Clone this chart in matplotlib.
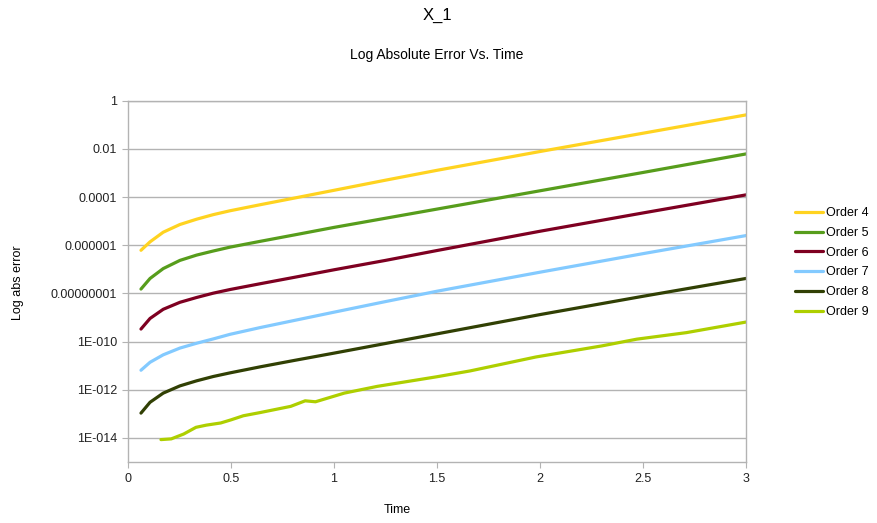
import matplotlib
matplotlib.use('Agg')
import matplotlib.pyplot as plt
from matplotlib.ticker import FixedLocator, FixedFormatter

plt.rcParams['font.family'] = ['Liberation Sans', 'DejaVu Sans']

# values, stored as log10(abs error)
t_main = [0.063, 0.107, 0.171, 0.252, 0.333, 0.414, 0.495, 0.641, 0.809, 1.0, 1.25, 1.5, 2.0, 2.5, 3.0]
order4 = [-6.21, -5.86, -5.46, -5.14, -4.92, -4.73, -4.57, -4.32, -4.04, -3.72, -3.30, -2.89, -2.11, -1.35, -0.59]
order5 = [-7.82, -7.38, -6.97, -6.63, -6.41, -6.24, -6.08, -5.84, -5.57, -5.26, -4.88, -4.50, -3.74, -2.98, -2.21]
order6 = [-9.48, -9.04, -8.66, -8.37, -8.17, -7.99, -7.84, -7.60, -7.33, -7.02, -6.63, -6.22, -5.42, -4.66, -3.91]
order7 = [-11.19, -10.86, -10.55, -10.27, -10.07, -9.89, -9.70, -9.42, -9.12, -8.78, -8.34, -7.91, -7.12, -6.35, -5.60]
order8 = [-12.97, -12.52, -12.14, -11.84, -11.63, -11.45, -11.30, -11.05, -10.78, -10.48, -10.08, -9.68, -8.88, -8.12, -7.38]

t_order9 = [0.16, 0.21, 0.27, 0.33, 0.38, 0.45, 0.50, 0.56, 0.64, 0.79, 0.86, 0.91, 1.05, 1.21,
            1.5, 1.66, 1.98, 2.3, 2.47, 2.71, 3.0]
order9 = [-14.07, -14.04, -13.84, -13.56, -13.47, -13.38, -13.25, -13.08, -12.95, -12.69, -12.46, -12.50,
          -12.14, -11.86, -11.46, -11.22, -10.64, -10.18, -9.90, -9.63, -9.19]

labels = ['Order 4', 'Order 5', 'Order 6', 'Order 7', 'Order 8', 'Order 9']
colors = ['#ffd320', '#579d1c', '#7e0021', '#83caff', '#314004', '#aecf00']

ytick_vals = [1, 1e-2, 1e-4, 1e-6, 1e-8, 1e-10, 1e-12, 1e-14]
ytick_text = ['1', '0.01', '0.0001', '0.000001', '0.00000001', '1E-010', '1E-012', '1E-014']
xtick_vals = [0, 0.5, 1, 1.5, 2, 2.5, 3]
xtick_text = ['0', '0.5', '1', '1.5', '2', '2.5', '3']

fig = plt.figure(figsize=(8.78, 5.23), dpi=100)
ax = fig.add_axes([128 / 878, 1 - 462 / 523, (746 - 128) / 878, (462 - 100.7) / 523])

series = [(t_main, order4), (t_main, order5), (t_main, order6),
          (t_main, order7), (t_main, order8), (t_order9, order9)]
for (t, logs), lab, c in zip(series, labels, colors):
    ax.plot(t, [10 ** v for v in logs], color=c, lw=2.3, label=lab,
            solid_capstyle='round', solid_joinstyle='round')

ax.set_yscale('log')
ax.set_ylim(1e-15, 1)
ax.set_xlim(0, 3)
ax.yaxis.set_major_locator(FixedLocator(ytick_vals))
ax.yaxis.set_major_formatter(FixedFormatter(ytick_text))
ax.yaxis.set_minor_locator(FixedLocator([]))
ax.xaxis.set_major_locator(FixedLocator(xtick_vals))
ax.xaxis.set_major_formatter(FixedFormatter(xtick_text))

ax.grid(axis='y', color='#b3b3b3', lw=1)
ax.set_axisbelow(True)
for s in ax.spines.values():
    s.set_color('#b3b3b3')
    s.set_linewidth(1)
ax.tick_params(axis='both', which='major', length=4, color='#b3b3b3', labelsize=9, pad=4,
               labelcolor='#222222')

fig.text(437 / 878, 1 - 15 / 523, 'X_1', ha='center', va='center', fontsize=12)
fig.text(437 / 878, 1 - 55 / 523, 'Log Absolute Error Vs. Time', ha='center', va='center', fontsize=10)
fig.text(397 / 878, 1 - 510 / 523, 'Time', ha='center', va='center', fontsize=9)
fig.text(18 / 878, 1 - 283 / 523, 'Log abs error', ha='center', va='center', fontsize=9, rotation=90)

fig.legend(loc='upper left', bbox_to_anchor=(789 / 878, 1 - 201 / 523), frameon=False,
           fontsize=9, handlelength=2.2, handletextpad=0.3, labelspacing=0.62, borderpad=0)

fig.savefig('out.png', dpi=100)
